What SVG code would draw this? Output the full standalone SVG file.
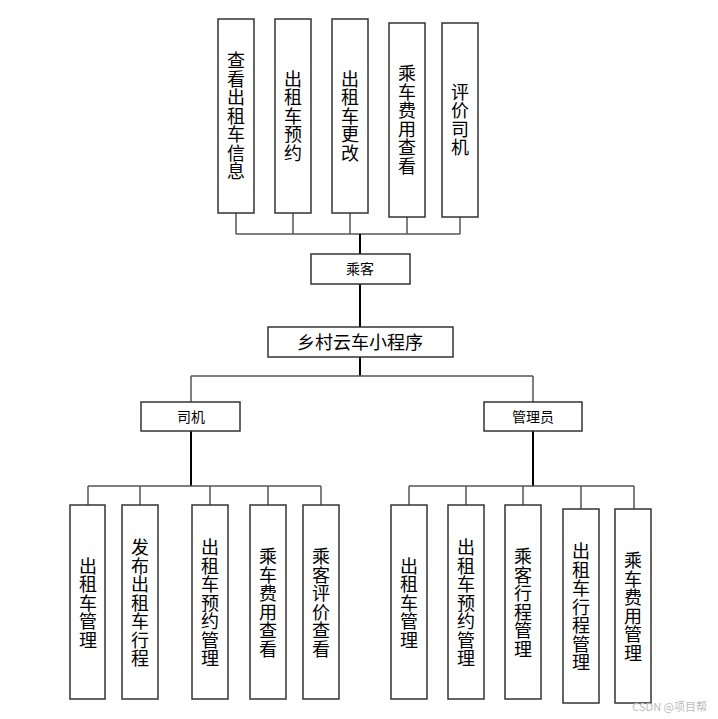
<svg xmlns="http://www.w3.org/2000/svg" width="718" height="719" viewBox="0 0 718 719">
<style>
rect{fill:#fff;stroke:#333;stroke-width:1.5}
text{font-family:"Noto Sans CJK SC","Noto Sans CJK JP",sans-serif;fill:#000}
.v{font-size:18px;text-anchor:middle;writing-mode:vertical-rl;letter-spacing:0.5px}
.h{font-size:14px;text-anchor:middle}
#connectors path{fill:none;stroke:#555;stroke-width:1.5}
#connectors .k{stroke:#000;stroke-width:2}
</style>
<rect width="718" height="719" style="stroke:none"/>
<g id="connectors">
<path d="M236 213V234M293 213V234M350 213V234M407 217V234M460 217V234M236 234H460"/>
<path class="k" d="M360 234V254M360 284V327M360 357V376"/>
<path d="M191 376H533M191 376V402M533 376V402"/>
<path class="k" d="M191 431V486M533 431V486"/>
<path d="M88 486H321M88 486V505M140 486V505M210 486V505M268 486V505M321 486V505"/>
<path d="M409 486H634M409 486V505M466 486V505M523 486V505M581 486V509M634 486V509"/>
</g>
<g id="t1"><rect x="218" y="19" width="36" height="194"/><text class="v" x="236" y="116">查看出租车信息</text></g>
<g id="t2"><rect x="275" y="19" width="36" height="194"/><text class="v" x="293" y="116">出租车预约</text></g>
<g id="t3"><rect x="332" y="19" width="36" height="194"/><text class="v" x="350" y="116">出租车更改</text></g>
<g id="t4"><rect x="389" y="23" width="36" height="194"/><text class="v" x="407" y="120">乘车费用查看</text></g>
<g id="t5"><rect x="442" y="23" width="36" height="194"/><text class="v" x="460" y="120">评价司机</text></g>
<g id="passenger"><rect x="311" y="254" width="99" height="30"/><text class="h" x="360" y="274">乘客</text></g>
<g id="app"><rect x="268" y="327" width="185" height="30"/><text x="360" y="349" style="font-size:18px;text-anchor:middle">乡村云车小程序</text></g>
<g id="driver"><rect x="141" y="402" width="99" height="29"/><text class="h" x="191" y="422">司机</text></g>
<g id="admin"><rect x="484" y="402" width="98" height="29"/><text class="h" x="533" y="422">管理员</text></g>
<g id="d1"><rect x="70" y="505" width="35" height="194"/><text class="v" x="88" y="603">出租车管理</text></g>
<g id="d2"><rect x="122" y="505" width="36" height="194"/><text class="v" x="140" y="603">发布出租车行程</text></g>
<g id="d3"><rect x="192" y="505" width="36" height="194"/><text class="v" x="210" y="603">出租车预约管理</text></g>
<g id="d4"><rect x="250" y="505" width="36" height="194"/><text class="v" x="268" y="603">乘车费用查看</text></g>
<g id="d5"><rect x="303" y="505" width="36" height="194"/><text class="v" x="321" y="603">乘客评价查看</text></g>
<g id="a1"><rect x="391" y="505" width="36" height="194"/><text class="v" x="409" y="603">出租车管理</text></g>
<g id="a2"><rect x="448" y="505" width="36" height="194"/><text class="v" x="466" y="603">出租车预约管理</text></g>
<g id="a3"><rect x="505" y="505" width="36" height="194"/><text class="v" x="523" y="603">乘客行程管理</text></g>
<g id="a4"><rect x="563" y="509" width="36" height="194"/><text class="v" x="581" y="607">出租车行程管理</text></g>
<g id="a5"><rect x="615" y="509" width="36" height="194"/><text class="v" x="633" y="607">乘车费用管理</text></g>
<text x="707" y="711" style="font-size:11px;text-anchor:end;fill:#bbb">CSDN @项目帮</text>
</svg>
